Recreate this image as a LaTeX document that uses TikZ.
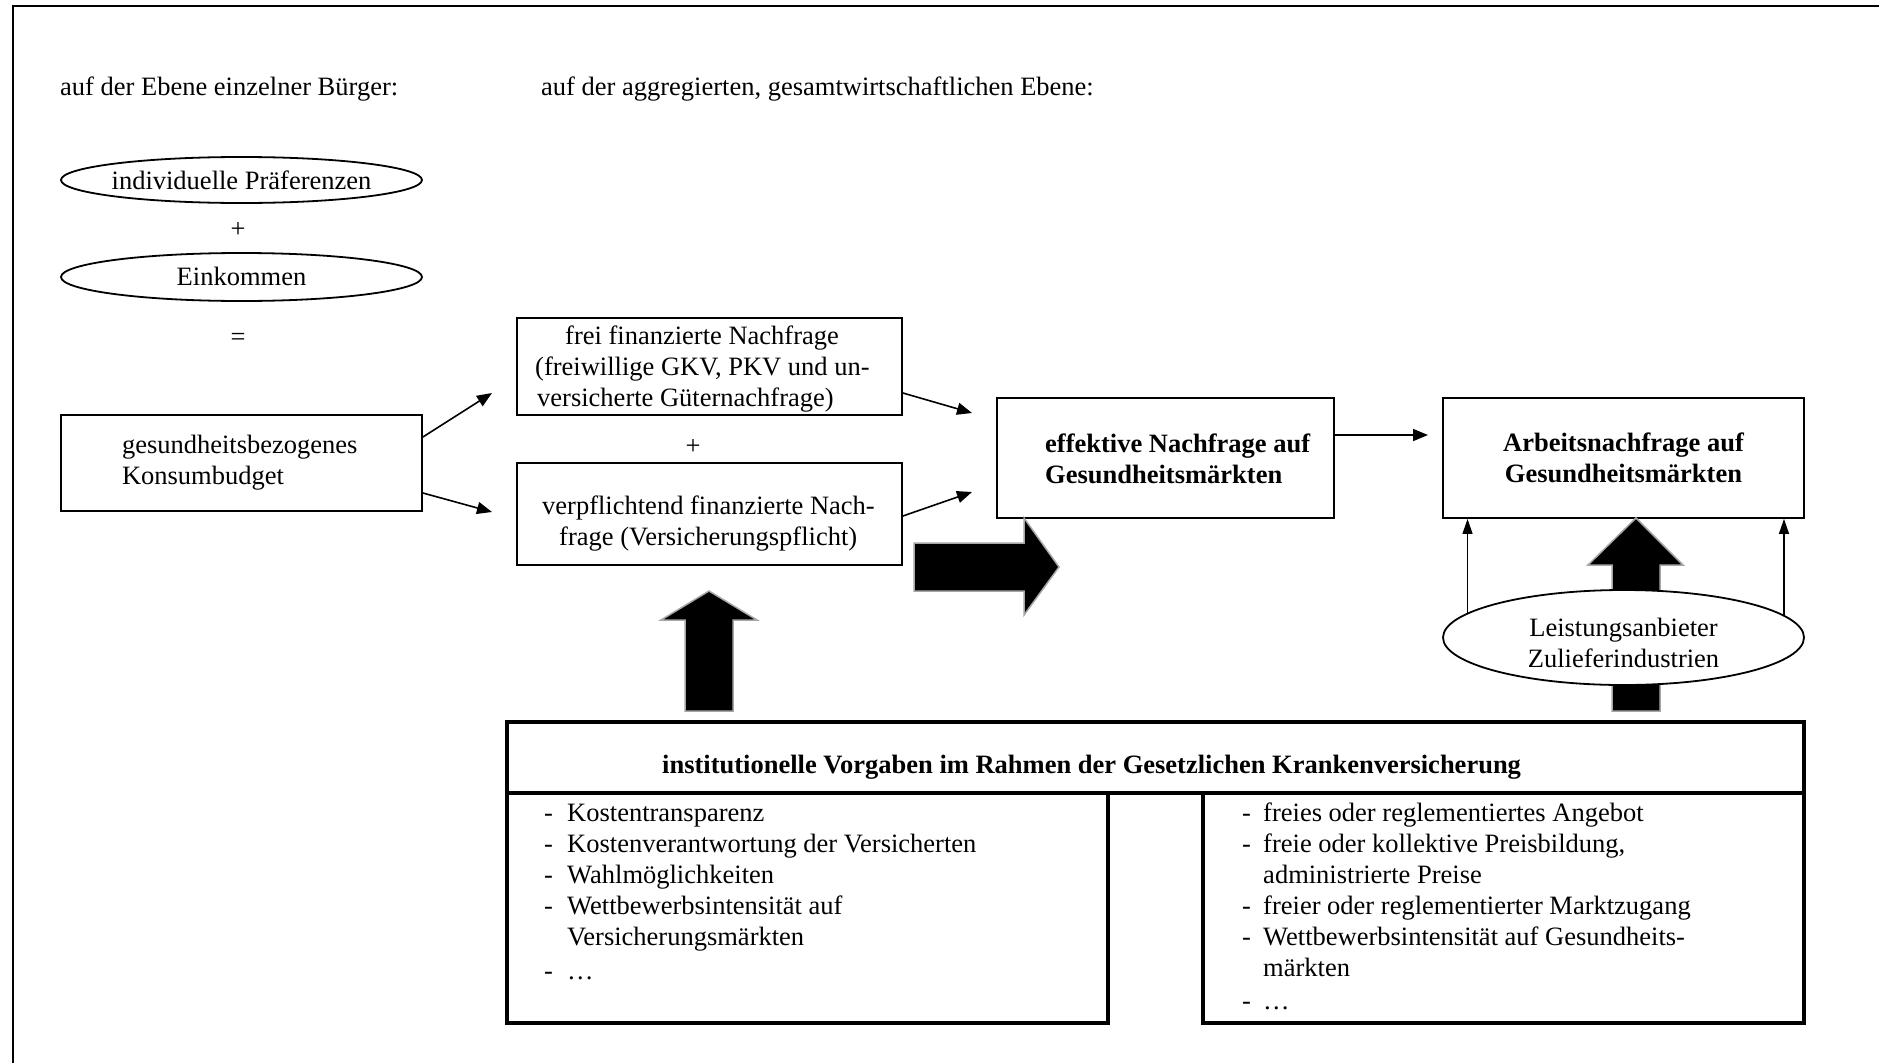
\documentclass[tikz,border=0pt]{standalone}
\usepackage{fontspec}
\setmainfont{Liberation Serif}
\usetikzlibrary{arrows.meta,shapes.geometric,calc}
\begin{document}
\begin{tikzpicture}[x=1pt,y=-1pt,
  font=\fontsize{26.5}{31}\selectfont,
  bftext/.style={font=\fontsize{26.5}{31}\selectfont\bfseries},
  box/.style={draw, line width=1.8pt, inner sep=0pt},
  bigbox/.style={draw, line width=4pt, inner sep=0pt},
  ell/.style={draw, ellipse, line width=1.8pt, inner sep=0pt},
  txt/.style={inner sep=0pt},
  arr/.style={line width=1.6pt, -{Triangle[length=15pt,width=12pt]}},
  varr/.style={line width=1.3pt, -{Triangle[length=15pt,width=10pt]}},
  bigarrow/.style={fill=black, draw=black!35, line width=1.5pt, line join=miter}]
\useasboundingbox (0,0) rectangle (1879,1063);
\fill[white] (0,0) rectangle (1879,1063);
% frame
\draw[line width=2pt] (1879,6) -- (13,6) -- (13,1063);
% headers
\node[txt, anchor=west] (h1) at (60,89) {auf der Ebene einzelner Bürger:};
\node[txt, anchor=west] (h2) at (541,89) {auf der aggregierten, gesamtwirtschaftlichen Ebene:};
% left column
\node[ell, minimum width=361pt, minimum height=46pt] (pref) at (241.5,180) {\makebox[240pt][c]{individuelle Präferenzen}};
\node (plus1) at (238,230) {+};
\node[ell, minimum width=361pt, minimum height=48pt] (eink) at (241.5,277) {\raisebox{1.5pt}{Einkommen}};
\node (eq) at (238,339) {=};
\node[box, minimum width=361pt, minimum height=96pt, inner xsep=61pt, text width=239pt, align=left] (konsum) at (241.5,463) {gesundheitsbezogenes\\Konsumbudget};
% middle column
\node[box, minimum width=385pt, minimum height=97pt] (frei) at (709.5,366.5) {};
\node[txt, anchor=west, align=left] (freiT) at (527,369) {\hspace*{38pt}frei finanzierte Nachfrage\\\hspace*{8pt}(freiwillige GKV, PKV und un-\\\hspace*{10pt}versicherte Güternachfrage)};
\node (plus2) at (693,447) {+};
\node[box, minimum width=385pt, minimum height=102pt] (verpfl) at (709.5,514) {};
\node[txt, anchor=west, align=left] (verpflT) at (542,523.5) {verpflichtend finanzierte Nach-\\\hspace*{17pt}frage (Versicherungspflicht)};
% effective demand
\node[box, minimum width=337pt, minimum height=120pt] (eff) at (1165.5,458) {};
\node[txt, bftext, align=left, anchor=west] (effT) at (1045,459) {effektive Nachfrage auf\\Gesundheitsmärkten};
% labour demand
\node[box, bftext, minimum width=361pt, minimum height=120pt, align=center] (arb) at (1623.5,458) {Arbeitsnachfrage auf\\Gesundheitsmärkten};
% thin arrows
\coordinate (t1) at (492,393);
\coordinate (t2) at (492,512);
\coordinate (t3) at (972,413);
\coordinate (t4) at (972,492);
\coordinate (t5) at (1428,435);
\draw[arr] ($(konsum.east)+(0,-26)$) -- (t1);
\draw[arr] ($(konsum.east)+(0,30)$) -- (t2);
\draw[arr] ($(frei.east)+(0,26.5)$) -- (t3);
\draw[arr] ($(verpfl.east)+(0,2)$) -- (t4);
\draw[arr] ($(eff.east)+(0,-23)$) -- (t5);
% big block arrows
\draw[bigarrow] (914,543) -- (1024,543) -- (1024,518) -- (1059,567) -- (1024,615) -- (1024,591) -- (914,591) -- cycle;
\draw[bigarrow] (685,711) -- (685,620) -- (661,620) -- (709,591) -- (757,620) -- (733,620) -- (733,711) -- cycle;
\draw[bigarrow] (1612,711) -- (1612,565) -- (1588,565) -- (1636,518) -- (1683,565) -- (1660,565) -- (1660,711) -- cycle;
% providers ellipse
\node[ell, fill=white, minimum width=361pt, minimum height=95pt] (anb) at (1623.5,637.5) {};
\node[txt, align=center] (anbT) at (1623.5,642.5) {Leistungsanbieter\\Zulieferindustrien};
\draw[varr] (anb.171.2) -- (anb.171.2 |- arb.south);
\draw[varr] (anb.8.8) -- (anb.8.8 |- arb.south);
% institutional box
\node[bigbox, minimum width=1297pt, minimum height=71pt] (inst) at (1155.5,757.5) {};
\node[txt, bftext, anchor=west] (instT) at (662,767.5) {institutionelle Vorgaben im Rahmen der Gesetzlichen Krankenversicherung};
\node[bigbox, minimum width=601pt, minimum height=230pt] (boxL) at (807.5,908) {};
\node[bigbox, minimum width=601pt, minimum height=230pt] (boxR) at (1503.5,908) {};
\node[txt, anchor=north west] (itemsL) at (544,800) {\begin{tabular}{@{}l@{\hspace{14.2pt}}l@{}}
-&Kostentransparenz\\
-&Kostenverantwortung der Versicherten\\
-&Wahlmöglichkeiten\\
-&Wettbewerbsintensität auf\\
&Versicherungsmärkten\\[3pt]
-&…
\end{tabular}};
\node[txt, anchor=north west] (itemsR) at (1242,800) {\begin{tabular}{@{}l@{\hspace{12.2pt}}l@{}}
-&freies oder reglementiertes Angebot\\
-&freie oder kollektive Preisbildung,\\
&administrierte Preise\\
-&freier oder reglementierter Marktzugang\\
-&Wettbewerbsintensität auf Gesundheits-\\
&märkten\\[2pt]
-&…
\end{tabular}};
\end{tikzpicture}
\end{document}
